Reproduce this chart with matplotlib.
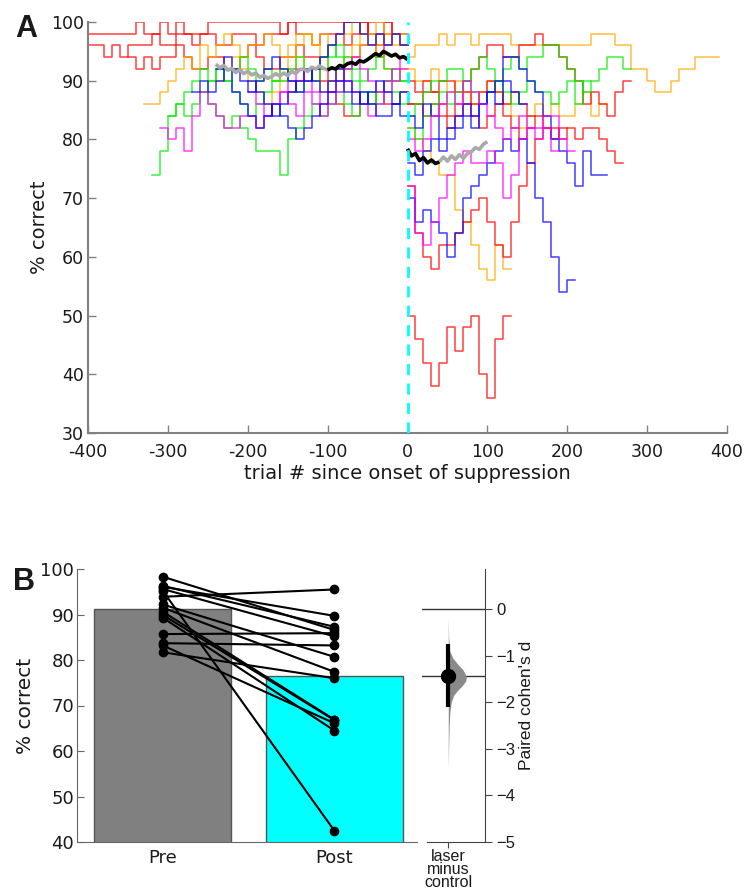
import numpy as np
import matplotlib
matplotlib.use('Agg')
import matplotlib.pyplot as plt

BIN = 10  # trials per step in every trace below

# ---------------- panel A: % correct, pre suppression (start trial, one value per 10 trials) ----------------
red_a_pre_start = -400
red_a_pre = [98, 98, 98, 98, 98, 98, 100, 98, 98, 100, 98, 100, 98, 98, 98, 100, 100, 100, 100, 100,
             100, 100, 100, 100, 98, 100, 100, 100, 100, 100, 100, 100, 100, 100, 98, 100, 100, 100, 98, 98]
red_b_pre_start = -400
red_b_pre = [96, 96, 94, 96, 94, 96, 96, 96, 98, 96, 96, 98, 98, 96, 98, 98, 96, 96, 98, 98,
             98, 96, 98, 98, 98, 100, 98, 98, 96, 98, 98, 98, 100, 100, 100, 98, 98, 100, 98, 96]
red_c_pre_start = -350
red_c_pre = [94, 92, 94, 92, 94, 94, 96, 94, 92, 92, 94, 94, 92, 92, 94, 96, 94, 92, 92, 94,
             94, 96, 94, 94, 92, 90, 92, 92, 94, 96, 96, 94, 96, 98, 96]
red_d_pre_start = -150
red_d_pre = [88, 90, 92, 92, 90, 88, 86, 84, 84, 86, 86, 88, 86, 86, 88]
red_e_pre_start = -120
red_e_pre = [92, 94, 96, 98, 96, 98, 100, 98, 96, 98, 98, 96]
orange_a_pre_start = -330
orange_a_pre = [86, 86, 88, 90, 92, 94, 92, 96, 94, 96, 98, 96, 94, 96, 96, 98, 96, 94, 96, 98,
                98, 96, 98, 96, 98, 98, 100, 98, 98, 96, 98, 98, 96]
orange_b_pre_start = -240
orange_b_pre = [90, 92, 94, 92, 90, 88, 86, 88, 90, 92, 94, 92, 90, 88, 90, 92, 94, 96, 98, 96, 94, 92, 90, 92]
orange_c_pre_start = -170
orange_c_pre = [90, 92, 94, 96, 98, 96, 94, 92, 90, 92, 94, 96, 98, 100, 98, 96, 98]
green_a_pre_start = -320
green_a_pre = [74, 78, 84, 86, 84, 86, 88, 86, 84, 82, 84, 82, 80, 78, 78, 78, 74, 80, 82, 84,
               86, 84, 86, 88, 86, 84, 86, 88, 86, 90, 88, 86]
green_b_pre_start = -300
green_b_pre = [84, 86, 88, 90, 92, 90, 92, 90, 92, 94, 92, 90, 92, 90, 90, 92, 94, 92, 90, 92,
               94, 96, 94, 92, 90, 92, 94, 92, 90, 90]
green_c_pre_start = -260
green_c_pre = [88, 90, 92, 90, 88, 86, 84, 86, 88, 90, 92, 90, 88, 90, 92, 94, 96, 94, 92, 90, 88, 86, 88, 90, 92, 90]
magenta_a_pre_start = -310
magenta_a_pre = [82, 80, 82, 78, 84, 88, 86, 84, 82, 82, 84, 84, 82, 84, 86, 88, 86, 84, 88, 86,
                 84, 86, 88, 90, 88, 86, 84, 86, 88, 90, 92]
magenta_b_pre_start = -200
magenta_b_pre = [88, 86, 84, 86, 88, 90, 92, 90, 88, 86, 88, 90, 92, 94, 92, 90, 88, 90, 92, 94]
blue_a_pre_start = -270
blue_a_pre = [88, 90, 88, 90, 92, 88, 86, 84, 82, 84, 86, 84, 82, 80, 82, 84, 86, 88, 90, 88,
              86, 88, 86, 84, 84, 86, 88]
blue_b_pre_start = -240
blue_b_pre = [92, 94, 92, 90, 88, 90, 92, 94, 92, 90, 88, 90, 92, 94, 96, 98, 100, 100, 98, 96, 98, 96, 98, 96]
blue_c_pre_start = -200
blue_c_pre = [90, 88, 86, 84, 86, 88, 90, 92, 90, 88, 90, 92, 90, 88, 86, 88, 90, 88, 86, 84]

# ---------------- panel A: % correct after onset (all start at trial 0) ----------------
orange_a_post = [94, 96, 96, 96, 98, 96, 98, 98, 96, 98, 98, 98, 98, 96, 96, 96, 96, 96, 96, 96,
                 96, 96, 96, 98, 98, 98, 96, 96, 92, 92, 90, 88, 88, 90, 92, 92, 94, 94, 94]
orange_b_post = [92, 90, 90, 92, 90, 88, 90, 88, 86, 88, 90, 88, 86, 84, 82, 84, 86, 84, 86, 84, 84, 86, 88, 84, 86]
orange_c_post = [82, 80, 78, 76, 74, 74, 68, 66, 62, 58, 56, 62, 58]
red_a_post = [86, 86, 88, 88, 90, 90, 88, 90, 92, 94, 96, 96, 94, 94, 96, 96, 98, 96, 96, 94,
              92, 90, 86, 88, 86, 84, 88, 90]
red_b_post = [86, 86, 84, 86, 84, 82, 84, 86, 84, 82, 84, 86, 84, 82, 80, 82, 84, 82, 82, 80,
              82, 80, 82, 82, 80, 78, 76]
red_c_post = [72, 64, 60, 58, 62, 62, 64, 66, 68, 70, 66, 62, 60, 66, 72, 76, 80, 82, 80, 82]
red_d_post = [90, 88, 90, 88, 86, 84, 86, 88, 86, 88, 90, 88, 86, 88, 86, 84]
red_e_post = [50, 46, 42, 38, 42, 48, 44, 48, 50, 40, 36, 46, 50]
green_a_post = [84, 86, 88, 90, 90, 92, 92, 90, 92, 94, 92, 90, 92, 94, 92, 94, 94, 96, 96, 94,
                92, 90, 88, 90, 92, 94, 94, 92]
green_b_post = [82, 80, 84, 86, 88, 86, 88, 90, 88, 86, 88, 90, 88, 86, 88, 90, 88, 88, 86, 88, 90, 86, 90]
blue_a_post = [76, 74, 78, 80, 78, 80, 82, 84, 82, 86, 88, 90, 94, 94, 92, 90, 88, 84, 80, 78, 76, 72, 78, 74, 74]
blue_b_post = [70, 66, 68, 66, 64, 60, 64, 70, 72, 74, 76, 78, 80, 78, 80, 76, 70, 66, 60, 54, 56]
blue_c_post = [84, 82, 86, 84, 80, 82, 84, 86, 84, 86, 88, 86, 90, 88, 86]
magenta_a_post = [72, 64, 62, 66, 70, 74, 76, 78, 76, 76, 78, 76, 70, 74, 80, 82, 82, 84, 84, 80, 78]
magenta_b_post = [80, 78, 80, 84, 86, 88, 86, 90, 88, 86, 84, 82, 80, 82, 84, 82, 80, 82, 78]

# group means (every 5 trials)
mean_pre_gray_start = -240
mean_pre_gray = [92.8, 92.2, 92.6, 91.8, 92.1, 91.4, 91.9, 91.2, 91.6, 91.0, 91.3, 90.6, 90.9, 90.4, 90.7,
                 91.2, 90.8, 91.3, 90.9, 91.6, 91.2, 91.9, 92.0, 91.6, 92.3, 92.0, 92.5, 92.1, 91.8]
mean_pre_black_start = -100
mean_pre_black = [91.8, 92.2, 92.0, 92.6, 92.4, 92.9, 93.1, 92.8, 93.4, 93.2, 93.6, 94.1, 94.6, 94.3, 95.0,
                  94.6, 94.2, 94.5, 93.9, 94.1, 93.6]
mean_post_black_start = 0
mean_post_black = [78.4, 77.2, 77.6, 76.4, 76.9, 76.0, 76.5, 75.9, 76.2]
mean_post_gray_start = 40
mean_post_gray = [76.2, 77.0, 76.3, 77.2, 76.6, 77.4, 76.8, 77.6, 77.9, 78.6, 78.3, 79.2, 79.6]

# ---------------- panel B ----------------
conditions = ['Pre', 'Post']
bar_means = [91.2, 76.5]
pre_pct = [93.9, 98.3, 96.1, 95.6, 85.7, 83.7, 81.7, 83.2, 95.2, 92.2, 91.5, 90.6, 89.9, 89.3, 96.3]
post_pct = [95.5, 86.6, 89.7, 85.2, 85.9, 83.2, 76.0, 66.1, 42.5, 80.7, 77.4, 66.9, 66.8, 64.5, 87.3]
effect_d = -1.43
effect_ci = [-2.11, -0.75]
boot_y = [-0.2, -0.6, -0.9, -1.05, -1.2, -1.3, -1.45, -1.55, -1.65, -1.75, -1.85, -2.0, -2.2, -2.5, -2.9, -3.4]
boot_density = [0, 0.02, 0.08, 0.25, 0.55, 0.8, 1.0, 0.95, 0.75, 0.5, 0.3, 0.16, 0.09, 0.05, 0.025, 0]
effect_ticks = [0, -1, -2, -3, -4, -5]

COLORS = {'red': '#ff0000', 'orange': '#ffaa00', 'green': '#00ee00', 'blue': '#0000ff', 'magenta': '#ff00ff'}
TXT = '#1a1a1a'

pre_traces = [
    ('red', red_a_pre_start, red_a_pre), ('red', red_b_pre_start, red_b_pre),
    ('red', red_c_pre_start, red_c_pre), ('red', red_d_pre_start, red_d_pre),
    ('red', red_e_pre_start, red_e_pre), ('orange', orange_a_pre_start, orange_a_pre),
    ('orange', orange_b_pre_start, orange_b_pre), ('orange', orange_c_pre_start, orange_c_pre),
    ('green', green_a_pre_start, green_a_pre), ('green', green_b_pre_start, green_b_pre),
    ('green', green_c_pre_start, green_c_pre), ('magenta', magenta_a_pre_start, magenta_a_pre),
    ('magenta', magenta_b_pre_start, magenta_b_pre), ('blue', blue_a_pre_start, blue_a_pre),
    ('blue', blue_b_pre_start, blue_b_pre), ('blue', blue_c_pre_start, blue_c_pre),
]
post_traces = [
    ('orange', orange_a_post), ('orange', orange_b_post), ('orange', orange_c_post),
    ('red', red_a_post), ('red', red_b_post), ('red', red_c_post), ('red', red_d_post), ('red', red_e_post),
    ('green', green_a_post), ('green', green_b_post),
    ('blue', blue_a_post), ('blue', blue_b_post), ('blue', blue_c_post),
    ('magenta', magenta_a_post), ('magenta', magenta_b_post),
]


def draw_steps(ax, start, vals, color):
    x = start + BIN * np.arange(len(vals) + 1)
    y = list(vals) + [vals[-1]]
    ax.step(x, y, where='post', color=color, lw=1.1, alpha=0.75, zorder=2)


def draw_mean(ax, start, vals, color):
    x = start + 5 * np.arange(len(vals))
    ax.plot(x, vals, color=color, lw=2.6, solid_capstyle='butt', zorder=4)


fig = plt.figure(figsize=(7.5, 8.89), dpi=100)

# ---------------- panel A ----------------
ax = fig.add_axes([88 / 750, 1 - 433 / 889, 639 / 750, 411 / 889])
for color, start, vals in pre_traces:
    draw_steps(ax, start, vals, COLORS[color])
for color, vals in post_traces:
    draw_steps(ax, 0, vals, COLORS[color])
draw_mean(ax, mean_pre_gray_start, mean_pre_gray, '#aaaaaa')
draw_mean(ax, mean_pre_black_start, mean_pre_black, 'black')
draw_mean(ax, mean_post_black_start, mean_post_black, 'black')
draw_mean(ax, mean_post_gray_start, mean_post_gray, '#aaaaaa')
ax.axvline(0, color='#00ffff', lw=2, ls=(0, (4, 3)), zorder=5)

ax.set_xlim(-400, 400)
ax.set_ylim(30, 100)
ax.set_xticks(range(-400, 401, 100))
ax.set_xticklabels([str(v) for v in range(-400, 401, 100)])
ax.set_yticks(range(30, 101, 10))
for s in ['top', 'right']:
    ax.spines[s].set_visible(False)
for s in ['left', 'bottom']:
    ax.spines[s].set_color('#808080')
    ax.spines[s].set_linewidth(1.5)
ax.tick_params(direction='in', length=6, width=1, color='#808080', labelsize=12.5, labelcolor=TXT)
ax.tick_params(axis='x', pad=7)
ax.tick_params(axis='y', pad=3)
ax.set_xlabel('trial # since onset of suppression', fontsize=14, color=TXT, labelpad=2)
ax.set_ylabel('% correct', fontsize=14, color=TXT, labelpad=1)
fig.text(15 / 750, 1 - 37 / 889, 'A', fontsize=22, fontweight='bold', family='Liberation Sans', color=TXT)

# ---------------- panel B ----------------
axb = fig.add_axes([77 / 750, 1 - 842 / 889, 340 / 750, 273 / 889])
axb.bar([0, 1], bar_means, width=0.8, color=['#808080', '#00ffff'], edgecolor='#555555', lw=1, zorder=1)
for a, b in zip(pre_pct, post_pct):
    axb.plot([0, 1], [a, b], color='black', lw=1.5, marker='o', ms=6, zorder=3)
axb.set_xlim(-0.5, 1.482)
axb.set_ylim(40, 100)
axb.set_yticks(range(40, 101, 10))
axb.set_xticks([0, 1])
axb.set_xticklabels(conditions)
for s in ['top', 'right']:
    axb.spines[s].set_visible(False)
for s in ['left', 'bottom']:
    axb.spines[s].set_color('#666666')
axb.tick_params(axis='y', direction='in', length=5, color='#666666', labelsize=13, labelcolor=TXT, pad=2)
axb.tick_params(axis='x', length=0, labelsize=13, labelcolor=TXT, pad=5)
axb.set_ylabel('% correct', fontsize=14.5, color=TXT, labelpad=4)
fig.text(13 / 750, 1 - 590 / 889, 'B', fontsize=22, fontweight='bold', family='Liberation Sans', color=TXT)

# ---------------- effect size axis ----------------
axe = fig.add_axes([422 / 750, 1 - 842 / 889, 63 / 750, 273 / 889])
axe.set_xlim(-0.417, 0.583)
axe.set_ylim(-5, 0.86)
axe.axhline(0, color='#333333', lw=1)
axe.axhline(effect_d, color='#333333', lw=1)
widths = 0.29 * np.array(boot_density)
axe.fill_betweenx(boot_y, 0, widths, color='#8a8a8a', lw=0, zorder=2)
axe.plot([0, 0], effect_ci, color='black', lw=3, solid_capstyle='butt', zorder=3)
axe.plot([0], [effect_d], 'o', color='black', ms=10, zorder=4)
for s in ['top', 'left']:
    axe.spines[s].set_visible(False)
for s in ['right', 'bottom']:
    axe.spines[s].set_color('#444444')
axe.spines['bottom'].set_bounds(-0.34, 0.583)
axe.yaxis.tick_right()
axe.yaxis.set_label_position('right')
axe.set_yticks(effect_ticks)
axe.set_yticklabels([str(t).replace('-', '\u2212') for t in effect_ticks], family='Liberation Sans')
axe.set_xticks([0])
axe.set_xticklabels(['laser\nminus\ncontrol'], family='Liberation Sans', linespacing=0.85)
axe.tick_params(axis='y', direction='out', length=5, color='#444444', labelsize=12, labelcolor=TXT, pad=3)
axe.tick_params(axis='x', direction='out', length=4, color='#444444', labelsize=11.5, labelcolor=TXT, pad=1)
axe.set_ylabel("Paired cohen's d", family='Liberation Sans', fontsize=12.5, color=TXT, labelpad=3)

fig.savefig('out.png', dpi=100)
